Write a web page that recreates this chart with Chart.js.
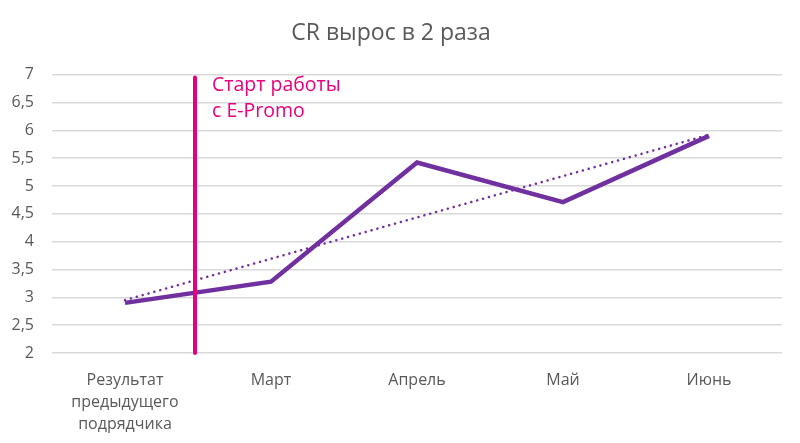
<!DOCTYPE html>
<html>
<head>
<meta charset="utf-8">
<script src="https://cdn.jsdelivr.net/npm/chart.js@4.4.0/dist/chart.umd.min.js"></script>
<style>
  html, body { margin: 0; padding: 0; background: #fff; }
  #wrap { width: 800px; height: 443px; }
</style>
</head>
<body>
<div id="wrap"><canvas id="c" width="800" height="443"></canvas></div>
<script>
const titleText = 'CR вырос в 2 раза';
const categories = [['Результат', 'предыдущего', 'подрядчика'], 'Март', 'Апрель', 'Май', 'Июнь'];
const crValues = [2.9, 3.28, 5.42, 4.71, 5.9];
const trendValues = [2.95, null, null, null, 5.92];
const yMin = 2, yMax = 7, yStep = 0.5;
const annotationLines = ['Старт работы', 'с E-Promo'];
const annotationTop = 6.95;

const FONT = "'Open Sans', 'Noto Sans', sans-serif";
const GREY = '#595959';
const PURPLE = '#7030A0';
const MAGENTA = '#E6007E';

const startLine = {
  id: 'startLine',
  afterDatasetsDraw(chart) {
    const x = chart.scales.x, y = chart.scales.y, ctx = chart.ctx;
    const px = (x.getPixelForValue(0) + x.getPixelForValue(1)) / 2 - 3;
    ctx.save();
    ctx.strokeStyle = MAGENTA;
    ctx.lineWidth = 4;
    ctx.lineCap = 'round';
    ctx.beginPath();
    ctx.moveTo(px, y.getPixelForValue(yMin));
    ctx.lineTo(px, y.getPixelForValue(annotationTop));
    ctx.stroke();
    ctx.fillStyle = MAGENTA;
    ctx.font = '19.5px ' + FONT;
    ctx.textBaseline = 'middle';
    ctx.textAlign = 'left';
    const top = y.getPixelForValue(annotationTop);
    annotationLines.forEach((t, i) => ctx.fillText(t, px + 17, top + 8 + i * 26));
    ctx.restore();
  }
};

new Chart(document.getElementById('c'), {
  type: 'line',
  data: {
    labels: categories,
    datasets: [
      {
        data: crValues,
        borderColor: PURPLE,
        borderWidth: 4.5,
        pointRadius: 0,
        tension: 0,
        borderJoinStyle: 'miter',
        order: 1
      },
      {
        data: trendValues,
        spanGaps: true,
        borderColor: PURPLE,
        borderWidth: 2.5,
        borderDash: [0.1, 6],
        borderCapStyle: 'round',
        pointRadius: 0,
        tension: 0,
        order: 2
      }
    ]
  },
  options: {
    responsive: false,
    animation: false,
    devicePixelRatio: 1,
    layout: { padding: { left: 0, right: 18, top: 0, bottom: 0 } },
    plugins: {
      legend: { display: false },
      tooltip: { enabled: false },
      title: {
        display: true,
        text: titleText,
        color: GREY,
        font: { family: FONT, size: 23, weight: 'normal' },
        padding: { top: 20, bottom: 27 }
      }
    },
    scales: {
      x: {
        offset: true,
        grid: { display: false },
        border: { display: false },
        ticks: {
          color: GREY,
          font: { family: FONT, size: 16, lineHeight: 1.38 },
          padding: 8,
          maxRotation: 0,
          autoSkip: false
        },
        afterFit(s) { s.height = 90; }
      },
      y: {
        min: yMin,
        max: yMax,
        grid: { color: '#d9d9d9', lineWidth: 1.5, drawTicks: false },
        border: { display: false },
        ticks: {
          stepSize: yStep,
          color: GREY,
          font: { family: FONT, size: 16 },
          padding: 18,
          callback: v => String(v).replace('.', ',')
        },
        afterFit(s) { s.width = 52; }
      }
    }
  },
  plugins: [startLine]
});
</script>
</body>
</html>
